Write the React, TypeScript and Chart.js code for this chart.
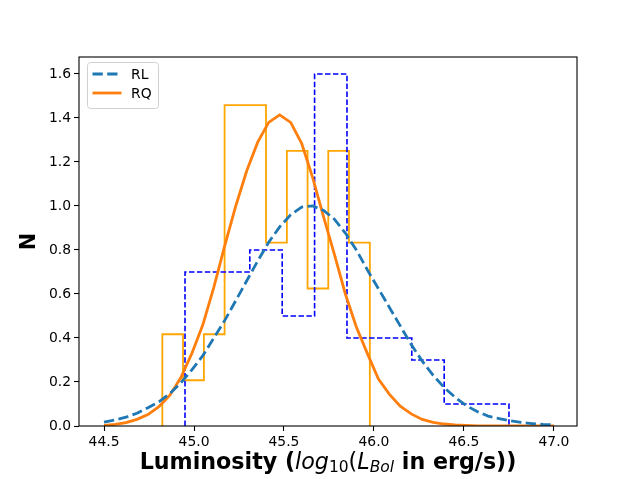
import React, { useEffect, useRef } from "react";
import { Chart, registerables } from "chart.js";

Chart.register(...registerables);

// ---------- data ----------
const xTicks = [44.5, 45.0, 45.5, 46.0, 46.5, 47.0];
const yTicks = [0.0, 0.2, 0.4, 0.6, 0.8, 1.0, 1.2, 1.4, 1.6];

// RL histogram (blue dashed steps)
const rlEdges = [44.95, 45.13, 45.31, 45.49, 45.67, 45.85, 46.03, 46.21, 46.39, 46.57, 46.75];
const rlHeights = [0.7, 0.7, 0.8, 0.5, 1.6, 0.4, 0.4, 0.3, 0.1, 0.1];

// RQ histogram (orange solid steps)
const rqEdges = [44.824, 44.939, 45.055, 45.17, 45.285, 45.4, 45.516, 45.631, 45.746, 45.861, 45.977];
const rqHeights = [0.417, 0.208, 0.417, 1.458, 1.458, 0.833, 1.25, 0.625, 1.25, 0.833];

// curve sample positions
const curveX = [
  44.5, 44.561, 44.622, 44.683, 44.744, 44.805, 44.866, 44.927, 44.988, 45.049,
  45.11, 45.171, 45.232, 45.293, 45.354, 45.415, 45.476, 45.537, 45.598, 45.659,
  45.72, 45.78, 45.841, 45.902, 45.963, 46.024, 46.085, 46.146, 46.207, 46.268,
  46.329, 46.39, 46.451, 46.512, 46.573, 46.634, 46.695, 46.756, 46.817, 46.878,
  46.939, 47.0,
];

// RL fitted curve (dashed)
const rlCurve = [
  0.018, 0.028, 0.04, 0.058, 0.083, 0.11, 0.148, 0.196, 0.255, 0.32,
  0.4, 0.48, 0.57, 0.66, 0.75, 0.835, 0.905, 0.96, 0.995, 1.0,
  0.98, 0.94, 0.877, 0.8, 0.71, 0.625, 0.54, 0.455, 0.37, 0.295,
  0.23, 0.175, 0.13, 0.093, 0.066, 0.045, 0.034, 0.024, 0.016, 0.011,
  0.007, 0.005,
];

// RQ fitted curve (solid)
const rqCurve = [
  0.003, 0.007, 0.015, 0.03, 0.052, 0.088, 0.14, 0.22, 0.33, 0.46,
  0.63, 0.82, 1.0, 1.16, 1.29, 1.38, 1.414, 1.38, 1.285, 1.13,
  0.95, 0.78, 0.6, 0.45, 0.33, 0.215, 0.145, 0.09, 0.055, 0.03,
  0.017, 0.009, 0.005, 0.003, 0.001, 0.0005, 0.0, 0.0, 0.0, 0.0,
  0.0, 0.0,
];

const seriesNames = ["RL", "RQ"];

// ---------- helpers ----------
function stepPath(edges: number[], heights: number[]) {
  const pts: { x: number; y: number }[] = [{ x: edges[0], y: 0 }];
  heights.forEach((h, i) => {
    pts.push({ x: edges[i], y: h });
    pts.push({ x: edges[i + 1], y: h });
  });
  pts.push({ x: edges[edges.length - 1], y: 0 });
  return pts;
}

function curvePoints(xs: number[], ys: number[]) {
  return xs.map((x, i) => ({ x, y: ys[i] }));
}

const FONT = "'DejaVu Sans', sans-serif";
const BLUE = "#1f77b4";
const ORANGE = "#ff7f0e";

const framePlugin = {
  id: "frameAndExtras",
  afterDraw(chart: any) {
    const { ctx, chartArea } = chart;
    const { left, right, top, bottom } = chartArea;
    ctx.save();
    // spines
    ctx.strokeStyle = "#000";
    ctx.lineWidth = 1.1;
    ctx.setLineDash([]);
    ctx.strokeRect(left, top, right - left, bottom - top);

    // legend
    const bx = 87.5, by = 62.5, bw = 71, bh = 46, r = 3;
    ctx.beginPath();
    ctx.moveTo(bx + r, by);
    ctx.lineTo(bx + bw - r, by);
    ctx.arcTo(bx + bw, by, bx + bw, by + r, r);
    ctx.lineTo(bx + bw, by + bh - r);
    ctx.arcTo(bx + bw, by + bh, bx + bw - r, by + bh, r);
    ctx.lineTo(bx + r, by + bh);
    ctx.arcTo(bx, by + bh, bx, by + bh - r, r);
    ctx.lineTo(bx, by + r);
    ctx.arcTo(bx, by, bx + r, by, r);
    ctx.closePath();
    ctx.fillStyle = "rgba(255,255,255,0.8)";
    ctx.fill();
    ctx.strokeStyle = "#d0d0d0";
    ctx.lineWidth = 1;
    ctx.stroke();

    const rows = [
      { y: 74, color: BLUE, dash: [10.3, 4.4] },
      { y: 93, color: ORANGE, dash: [] as number[] },
    ];
    rows.forEach((row, i) => {
      ctx.beginPath();
      ctx.strokeStyle = row.color;
      ctx.lineWidth = 2.8;
      ctx.setLineDash(row.dash);
      ctx.moveTo(92.5, row.y);
      ctx.lineTo(121.5, row.y);
      ctx.stroke();
      ctx.setLineDash([]);
      ctx.fillStyle = "#000";
      ctx.font = `13.9px ${FONT}`;
      ctx.textBaseline = "middle";
      ctx.textAlign = "left";
      ctx.fillText(seriesNames[i], 131, row.y + 1);
    });

    // x-axis title with mixed styles
    const main = 22.2;
    const sub = 15.5;
    const segs = [
      { t: "Luminosity (", f: `bold ${main}px ${FONT}`, dy: 0 },
      { t: "log", f: `oblique ${main}px ${FONT}`, dy: 0 },
      { t: "10", f: `${sub}px ${FONT}`, dy: 3 },
      { t: "(", f: `${main}px ${FONT}`, dy: 0 },
      { t: "L", f: `oblique ${main}px ${FONT}`, dy: 0 },
      { t: "Bol", f: `oblique ${sub}px ${FONT}`, dy: 3 },
      { t: " in erg/s))", f: `bold ${main}px ${FONT}`, dy: 0 },
    ];
    let total = 0;
    const widths = segs.map((s) => {
      ctx.font = s.f;
      const w = ctx.measureText(s.t).width;
      total += w;
      return w;
    });
    let x = (left + right) / 2 - total / 2;
    const baseY = 468.7;
    ctx.textBaseline = "alphabetic";
    ctx.textAlign = "left";
    ctx.fillStyle = "#000";
    segs.forEach((s, i) => {
      ctx.font = s.f;
      ctx.fillText(s.t, x, baseY + s.dy);
      x += widths[i];
    });
    ctx.restore();
  },
};

export default function App() {
  const canvasRef = useRef<HTMLCanvasElement | null>(null);

  useEffect(() => {
    const canvas = canvasRef.current;
    if (!canvas) return;
    const chart = new Chart(canvas, {
      type: "scatter",
      data: {
        datasets: [
          {
            label: seriesNames[0],
            data: curvePoints(curveX, rlCurve),
            showLine: true,
            borderColor: BLUE,
            backgroundColor: BLUE,
            borderWidth: 2.8,
            borderDash: [10.3, 4.4],
            pointRadius: 0,
            pointHoverRadius: 0,
            order: 0,
          },
          {
            label: seriesNames[1],
            data: curvePoints(curveX, rqCurve),
            showLine: true,
            borderColor: ORANGE,
            backgroundColor: ORANGE,
            borderWidth: 2.8,
            pointRadius: 0,
            pointHoverRadius: 0,
            order: 0,
          },
          {
            label: "RL hist",
            data: stepPath(rlEdges, rlHeights),
            showLine: true,
            borderColor: "#0000ff",
            backgroundColor: "#0000ff",
            borderWidth: 1.6,
            borderDash: [5.5, 2.4],
            pointRadius: 0,
            pointHoverRadius: 0,
            order: 1,
          },
          {
            label: "RQ hist",
            data: stepPath(rqEdges, rqHeights),
            showLine: true,
            borderColor: "#ffa500",
            backgroundColor: "#ffa500",
            borderWidth: 1.8,
            pointRadius: 0,
            pointHoverRadius: 0,
            order: 1,
          },
        ],
      },
      options: {
        responsive: false,
        animation: false,
        devicePixelRatio: 1,
        layout: { padding: { left: 0, top: 57, right: 64, bottom: 0 } },
        plugins: {
          legend: { display: false },
          tooltip: { enabled: false },
          title: { display: false },
        },
        scales: {
          x: {
            type: "linear",
            min: 44.361,
            max: 47.128,
            afterBuildTicks: (scale: any) => {
              scale.ticks = xTicks.map((v) => ({ value: v }));
            },
            afterFit: (scale: any) => {
              scale.height = 53;
            },
            ticks: {
              color: "#000",
              font: { family: FONT, size: 13.9 },
              padding: 3,
              maxRotation: 0,
              autoSkip: false,
              callback: (v: any) => Number(v).toFixed(1),
            },
            grid: {
              drawOnChartArea: false,
              drawTicks: true,
              tickLength: 5,
              tickColor: "#000",
              tickWidth: 1.1,
            },
            border: { display: false },
            title: { display: false },
          },
          y: {
            type: "linear",
            min: 0,
            max: 1.677,
            afterBuildTicks: (scale: any) => {
              scale.ticks = yTicks.map((v) => ({ value: v }));
            },
            afterFit: (scale: any) => {
              scale.width = 79;
            },
            ticks: {
              color: "#000",
              font: { family: FONT, size: 13.9 },
              padding: 3,
              autoSkip: false,
              callback: (v: any) => Number(v).toFixed(1),
            },
            grid: {
              drawOnChartArea: false,
              drawTicks: true,
              tickLength: 5,
              tickColor: "#000",
              tickWidth: 1.1,
            },
            border: { display: false },
            title: {
              display: true,
              text: "N",
              color: "#000",
              font: { family: FONT, size: 20.8, weight: "bold" },
              padding: { top: 17, bottom: 0 },
            },
          },
        },
      },
      plugins: [framePlugin],
    } as any);
    return () => chart.destroy();
  }, []);

  return (
    <div style={{ position: "fixed", left: 0, top: 0, width: 641, height: 479, background: "#fff" }}>
      <canvas ref={canvasRef} width={641} height={479} style={{ display: "block", width: 641, height: 479 }} />
    </div>
  );
}
